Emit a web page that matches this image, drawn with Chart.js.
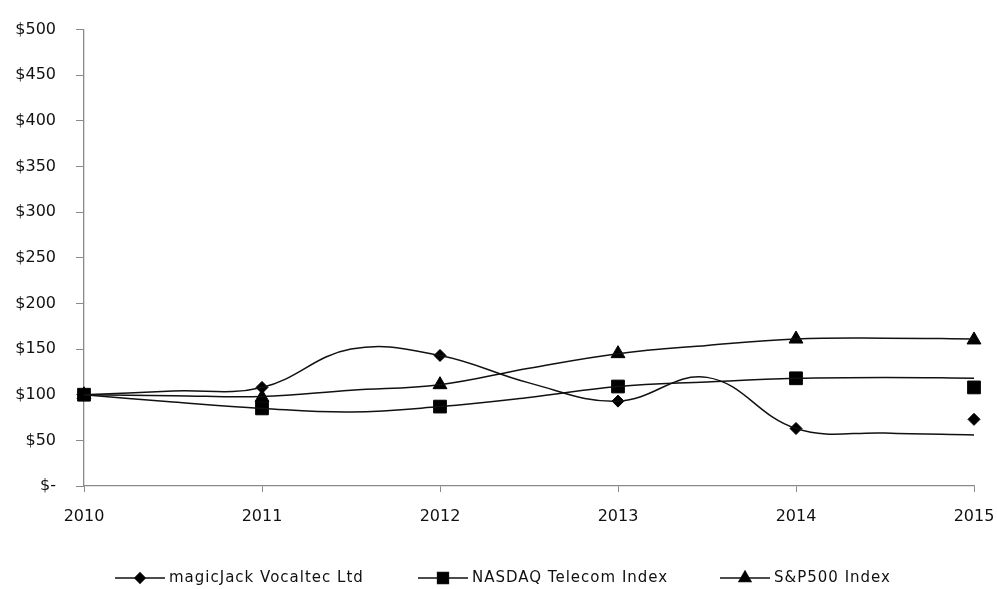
<!DOCTYPE html>
<html>
<head>
<meta charset="utf-8">
<script src="https://cdn.jsdelivr.net/npm/chart.js@4"></script>
<style>
  html, body { margin: 0; padding: 0; background: #fff; }
  .chart-container { width: 997px; height: 589px; position: relative; }
</style>
</head>
<body>
<div class="chart-container">
  <canvas id="myChart"></canvas>
</div>
<script>
// markers sit at the yearly points, the smoothed lines follow half-year readings
const years = [2010, 2011, 2012, 2013, 2014, 2015];
const lineYears = [2010, 2010.5, 2011, 2011.5, 2012, 2012.5, 2013, 2013.5, 2014, 2014.5, 2015];

const magicJack = [100, 108, 143, 93, 63, 73];
const nasdaq = [100, 85, 87, 109, 118, 108];
const sp500 = [100, 97, 111, 145, 161, 160];

const magicJackLine = [100, 104, 108, 150, 143, 113, 93, 119, 63, 58, 56];
const nasdaqLine = [100, 92, 85, 81, 87, 97, 109, 114, 118, 119, 118];
const sp500Line = [100, 99, 98, 105, 111, 129, 145, 154, 161, 162, 161];

const seriesNames = ["magicJack Vocaltec Ltd", "NASDAQ Telecom Index", "S&P500 Index"];

const yTicks = [0, 50, 100, 150, 200, 250, 300, 350, 400, 450, 500];

const FONT = "'DejaVu Sans', sans-serif";
const ink = "#111";
const axisGray = "#8a8a8a";

const toPoints = (xs, ys) => xs.map((x, i) => ({ x: x, y: ys[i] }));

const lineSet = (vals) => ({
  data: toPoints(lineYears, vals),
  showLine: true,
  borderColor: ink,
  borderWidth: 1.5,
  pointRadius: 0,
  pointHoverRadius: 0,
  tension: 0.4,
  fill: false,
  clip: false
});

const markerSet = (vals, style, r) => ({
  data: toPoints(years, vals),
  showLine: false,
  pointStyle: style,
  pointRadius: r,
  pointHoverRadius: r,
  pointBackgroundColor: "#000",
  pointBorderColor: "#000",
  pointBorderWidth: 1,
  clip: false
});

const markerStyles = [["rectRot", 6], ["rect", 9], ["triangle", 8]];

// legend drawn as line + marker + text, like the original
const lineLegend = {
  id: "lineLegend",
  afterDraw(chart) {
    const ctx = chart.ctx;
    const starts = [115, 418, 720];
    const y = 578;
    ctx.save();
    ctx.font = "15px " + FONT;
    ctx.letterSpacing = "1px";
    ctx.textBaseline = "middle";
    seriesNames.forEach((name, i) => {
      const x0 = starts[i];
      ctx.strokeStyle = ink;
      ctx.lineWidth = 1.5;
      ctx.beginPath();
      ctx.moveTo(x0, y);
      ctx.lineTo(x0 + 50, y);
      ctx.stroke();
      const [style, r] = markerStyles[i];
      Chart.helpers.drawPoint(ctx, { pointStyle: style, radius: r * 0.85, borderWidth: 1 }, x0 + 25, y);
      ctx.fillStyle = "#000";
      ctx.fill();
      ctx.fillStyle = ink;
      ctx.fillText(name, x0 + 54, y);
    });
    ctx.restore();
  }
};

const ctx = document.getElementById("myChart").getContext("2d");
new Chart(ctx, {
  type: "scatter",
  data: {
    datasets: [
      lineSet(magicJackLine),
      lineSet(nasdaqLine),
      lineSet(sp500Line),
      markerSet(magicJack, "rectRot", 6),
      markerSet(nasdaq, "rect", 9),
      markerSet(sp500, "triangle", 8)
    ]
  },
  options: {
    responsive: true,
    maintainAspectRatio: false,
    animation: false,
    layout: { padding: { left: 0, right: 23, top: 12, bottom: 56 } },
    plugins: {
      legend: { display: false },
      tooltip: { enabled: false }
    },
    scales: {
      x: {
        type: "linear",
        min: 2010,
        max: 2015,
        afterFit: (s) => {
          s.height = 589 - 56 - 486;
          s.paddingLeft = 0;
          s.paddingRight = 0;
        },
        border: { color: axisGray, width: 1.3 },
        grid: { drawOnChartArea: false, color: axisGray, tickLength: 6 },
        ticks: {
          stepSize: 1,
          padding: 15,
          color: ink,
          font: { family: FONT, size: 16 },
          callback: (v) => String(v)
        }
      },
      y: {
        min: 0,
        max: 500,
        afterFit: (s) => { s.width = 84; },
        afterBuildTicks: (s) => { s.ticks = yTicks.map(v => ({ value: v })); },
        border: { color: axisGray, width: 1.3 },
        grid: { drawOnChartArea: false, color: axisGray, tickLength: 8 },
        ticks: {
          padding: 20,
          color: ink,
          font: { family: FONT, size: 16 },
          callback: (v) => v === 0 ? "$-" : "$" + v
        }
      }
    }
  },
  plugins: [lineLegend]
});
</script>
</body>
</html>
